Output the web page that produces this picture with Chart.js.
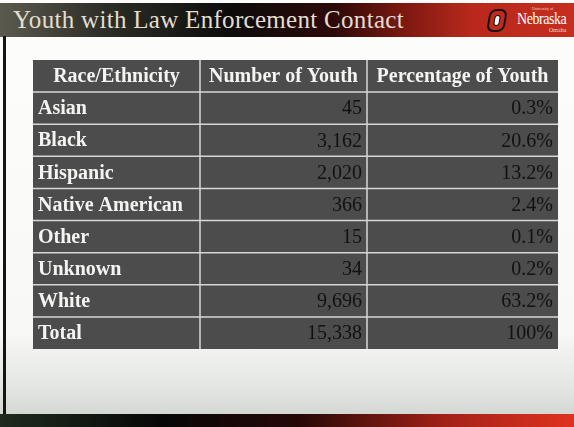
<!DOCTYPE html>
<html>
<head>
<meta charset="utf-8">
<title>Youth with Law Enforcement Contact</title>
<script src="https://cdn.jsdelivr.net/npm/chart.js@4"></script>
<style>
  html, body { margin: 0; padding: 0; }
  body { width: 574px; height: 427px; position: relative; overflow: hidden; background: #fff; }
  #slide { position: absolute; left: 0; top: 0; width: 574px; height: 427px;
    background: linear-gradient(to bottom, #fdfdfc 0%, #f8f8f6 78%, #e4e7e3 90%, #d4d8d3 97%); }
  #edge { position: absolute; left: 3px; top: 36px; width: 3px; height: 380px; background: #151515; }
  #topbar { position: absolute; left: 0; top: 3px; width: 574px; height: 34px;
    background: linear-gradient(to right, #5a5a4e 0%, #2e2e28 18%, #0c0c0b 40%, #2c0907 58%, #7a1810 70%, #b8281b 82%, #c62e1f 100%); }
  #title { position: absolute; left: 13px; top: 7px; font-family: "Liberation Serif", serif; font-size: 25px;
    line-height: 25px; color: #e2ded0; white-space: nowrap; letter-spacing: 0.3px; }
  #logo-o { position: absolute; left: 488px; top: 9px; width: 14px; height: 19px; background: #c42a1c;
    border: 2px solid #141414; border-radius: 7px; transform: skewX(-10deg); }
  #logo-o div { position: absolute; left: 4px; top: 4px; width: 4px; height: 9px; border: 1px solid #141414;
    background: #fff; border-radius: 3px; }
  #uni { position: absolute; left: 532px; top: 6px; font: 4px "Liberation Serif", serif; color: #f3d6d0; }
  #neb { position: absolute; left: 517px; top: 9px; font: 17px "Liberation Serif", serif; color: #fff;
    transform: scaleX(0.82); transform-origin: left top; letter-spacing: -0.5px; }
  #omaha { position: absolute; left: 549px; top: 27px; font: 6px "Liberation Serif", serif; color: #f3d6d0; }
  #bottombar { position: absolute; left: 0; top: 414px; width: 574px; height: 13px;
    background: linear-gradient(to right, #1e2b1e 0%, #070707 28%, #250806 52%, #a52118 78%, #e0321f 100%); }
  #chart { position: absolute; left: 0; top: 0; }
</style>
</head>
<body>
<div id="slide"></div>
<div id="topbar"></div>
<div id="edge"></div>
<div id="title">Youth with Law Enforcement Contact</div>
<div id="logo-o"><div></div></div>
<div id="uni">University of</div>
<div id="neb">Nebraska</div>
<div id="omaha">Omaha</div>
<div id="bottombar"></div>
<canvas id="chart" width="574" height="427"></canvas>
<script>
// table contents
const headers = ["Race/Ethnicity", "Number of Youth", "Percentage of Youth"];
const races = ["Asian", "Black", "Hispanic", "Native American", "Other", "Unknown", "White", "Total"];
const youthCounts = [45, 3162, 2020, 366, 15, 34, 9696, 15338];
const youthPercent = [0.3, 20.6, 13.2, 2.4, 0.1, 0.2, 63.2, 100];

// column widths in px, the x scale runs 0..sum of them
const colWidths = [167, 167, 191];
const colEdges = [0];
colWidths.forEach(w => colEdges.push(colEdges[colEdges.length - 1] + w));

const rows = [headers[0]].concat(races);

function fmtCount(v) { return v.toLocaleString("en-US"); }
function fmtPercent(v) { return (v === 100 ? "100" : v.toFixed(1)) + "%"; }

// one floating bar per column covers every row -> the cell backgrounds
const datasets = colWidths.map((w, j) => ({
  label: headers[j],
  data: rows.map(() => [colEdges[j], colEdges[j + 1]]),
  backgroundColor: "#4c4c4c",
  borderWidth: 0,
  barPercentage: 1,
  categoryPercentage: 1,
  grouped: false
}));

const cellText = {
  id: "cellText",
  afterDatasetsDraw(chart) {
    const { ctx, scales: { x, y }, chartArea } = chart;
    const half = Math.abs(y.getPixelForValue(1) - y.getPixelForValue(0)) / 2;
    ctx.save();

    // grid lines between the cells
    ctx.strokeStyle = "#d6d6d6";
    ctx.lineWidth = 1.5;
    ctx.beginPath();
    for (let r = 1; r < rows.length; r++) {
      const py = y.getPixelForValue(r) - half;
      ctx.moveTo(chartArea.left, py);
      ctx.lineTo(chartArea.right, py);
    }
    for (let j = 1; j < colWidths.length; j++) {
      const px = x.getPixelForValue(colEdges[j]);
      ctx.moveTo(px, chartArea.top);
      ctx.lineTo(px, chartArea.bottom);
    }
    ctx.stroke();

    ctx.textBaseline = "middle";
    // header row
    ctx.fillStyle = "#f4f4f2";
    ctx.font = "bold 20px 'Liberation Serif', serif";
    ctx.textAlign = "center";
    headers.forEach((h, j) => {
      const cx = (x.getPixelForValue(colEdges[j]) + x.getPixelForValue(colEdges[j + 1])) / 2;
      ctx.fillText(h, cx, y.getPixelForValue(0) + 1);
    });

    // body rows
    races.forEach((race, i) => {
      const cy = y.getPixelForValue(i + 1) + 1;
      ctx.textAlign = "left";
      ctx.fillStyle = "#f4f4f2";
      ctx.font = "bold 20px 'Liberation Serif', serif";
      ctx.fillText(race, x.getPixelForValue(colEdges[0]) + 5, cy);

      ctx.textAlign = "right";
      ctx.fillStyle = "#111111";
      ctx.font = "20px 'Liberation Serif', serif";
      ctx.fillText(fmtCount(youthCounts[i]), x.getPixelForValue(colEdges[2]) - 5, cy);
      ctx.fillText(fmtPercent(youthPercent[i]), x.getPixelForValue(colEdges[3]) - 5, cy);
    });
    ctx.restore();
  }
};

new Chart(document.getElementById("chart"), {
  type: "bar",
  data: { labels: rows, datasets: datasets },
  options: {
    indexAxis: "y",
    responsive: false,
    animation: false,
    layout: { padding: { left: 33, right: 16, top: 60, bottom: 78 } },
    plugins: { legend: { display: false }, tooltip: { enabled: false } },
    scales: {
      x: { display: false, min: 0, max: colEdges[colEdges.length - 1] },
      y: { display: false }
    }
  },
  plugins: [cellText]
});
</script>
</body>
</html>
